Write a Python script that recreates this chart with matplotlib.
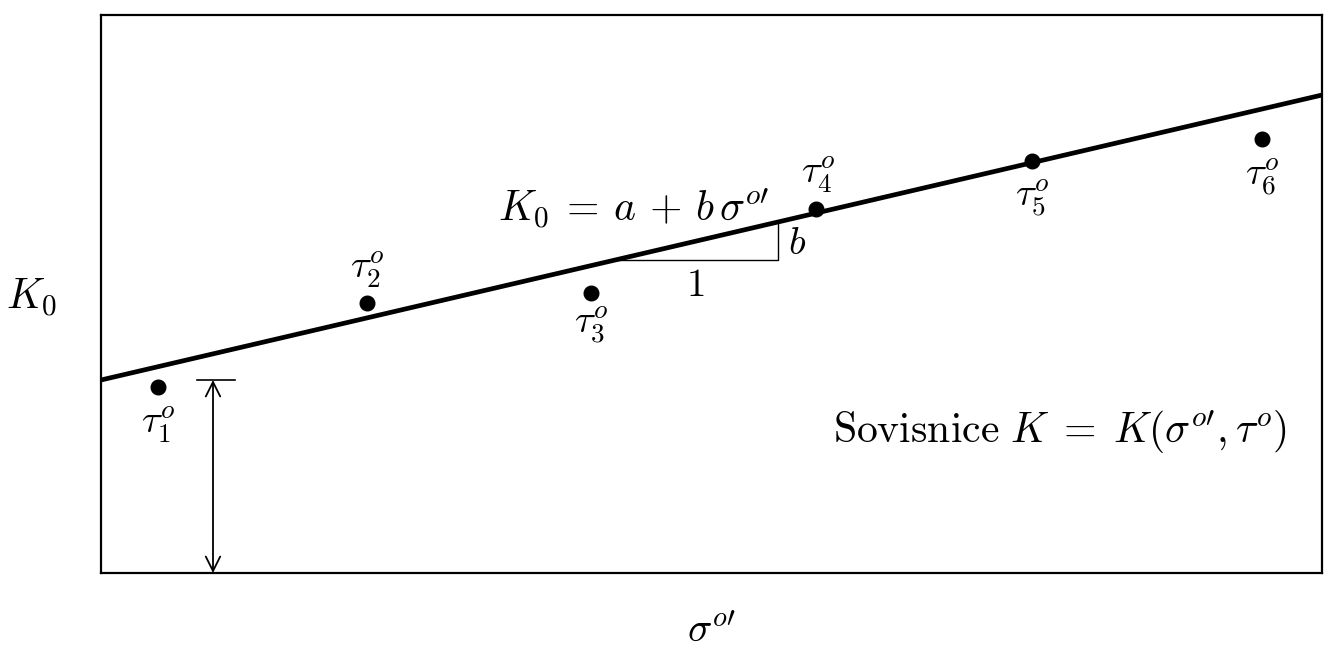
import numpy as np
import matplotlib.pyplot as plt

plt.rcParams['mathtext.fontset'] = 'cm'
plt.rcParams['font.family'] = 'serif'
plt.rcParams['font.serif'] = ['DejaVu Serif']

# regresni primka K0 = a + b*sigma
a = 1.93
b = 0.2334

# body tau_i^o
body_x = [0.57, 2.66, 4.90, 7.15, 9.31, 11.61]
body_y = [1.86, 2.70, 2.80, 3.64, 4.12, 4.34]
popisky = [r'$\tau_1^o$', r'$\tau_2^o$', r'$\tau_3^o$', r'$\tau_4^o$', r'$\tau_5^o$', r'$\tau_6^o$']
# posun popisku vuci bodu (dx, dy)
posuny = [(0.0, -0.38), (0.0, 0.33), (0.0, -0.32), (0.02, 0.34), (0.0, -0.37), (0.0, -0.38)]

x_min, x_max = 0.0, 12.21
y_min, y_max = 0.0, 5.58

fig = plt.figure(figsize=(13.38, 6.51), dpi=100)
ax = fig.add_axes([101 / 1338, (651 - 573) / 651, (1322 - 101) / 1338, (573 - 15) / 651])
ax.set_xlim(x_min, x_max)
ax.set_ylim(y_min, y_max)
ax.set_xticks([])
ax.set_yticks([])
for s in ax.spines.values():
    s.set_linewidth(1.6)

# primka
xs = np.array([x_min, x_max])
ax.plot(xs, a + b * xs, color='black', lw=3.4, solid_capstyle='butt', zorder=3)

# body a popisky
ax.plot(body_x, body_y, 'o', color='black', ms=10.5, zorder=4)
for x, y, t, (dx, dy) in zip(body_x, body_y, popisky, posuny):
    ax.text(x + dx, y + dy, t, fontsize=28, ha='center', va='center')

# trojuhelnik sklonu
tx0, tx1 = 5.14, 6.77
ax.plot([tx0, tx1, tx1], [a + b * tx0, a + b * tx0, a + b * tx1], color='black', lw=1.0)
ax.text(5.94, 2.87, r'$1$', fontsize=28, ha='center', va='center')
ax.text(6.96, 3.29, r'$b$', fontsize=28, ha='center', va='center')

# rovnice primky
ax.text(5.33, 3.64, r"$K_0\:=\:a\,+\,b\,\sigma^{o\prime}$", fontsize=30, ha='center', va='center')

# usek a
xa = 1.12
ax.plot([0.96, 1.34], [a, a], color='black', lw=1.2)
ax.annotate('', xy=(xa, a), xytext=(xa, 0.0),
            arrowprops=dict(arrowstyle='<->', color='black', lw=1.3, mutation_scale=26,
                            shrinkA=0, shrinkB=0))

ax.text(9.59, 1.41, r"$\mathrm{Sovisnice}\ K\;=\;K(\sigma^{o\prime}, \tau^o)$", fontsize=30,
        ha='center', va='center')

# popisky os
fig.text(31 / 1338, 1 - 298 / 651, r'$K_0$', fontsize=30, ha='center', va='center')
fig.text(711 / 1338, 1 - 630 / 651, r"$\sigma^{o\prime}$", fontsize=29, ha='center', va='center')

fig.savefig('out.png', dpi=100)
